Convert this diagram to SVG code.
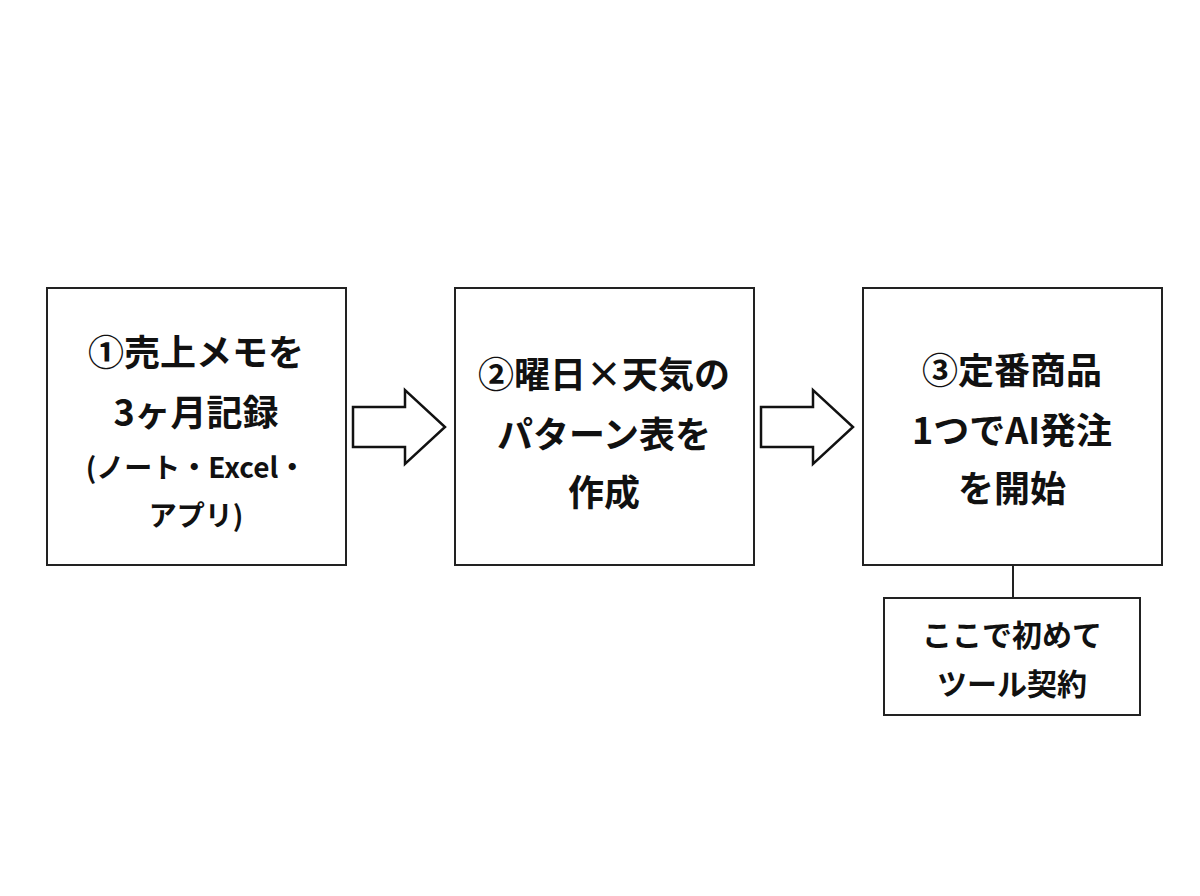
<svg xmlns="http://www.w3.org/2000/svg" width="1200" height="896" viewBox="0 0 1200 896">
<style>
.b{fill:#fff;stroke:#222;stroke-width:2}
.t{font-family:"Noto Sans CJK JP","Noto Sans",sans-serif;font-weight:bold;fill:#111;text-anchor:middle}
.a{fill:#fff;stroke:#111;stroke-width:2.5;stroke-linejoin:miter}
</style>
<rect width="1200" height="896" fill="#fff"/>
<g id="connectors">
<path class="a" d="M353,407 H405 V390 L445,427 L405,464 V447 H353 Z"/>
<path class="a" d="M761,407 H813 V390 L853,427 L813,464 V447 H761 Z"/>
<line x1="1013" y1="565" x2="1013" y2="598" stroke="#222" stroke-width="2"/>
</g>
<g id="n1">
<rect class="b" x="47" y="288" width="299" height="277"/>
<text class="t" x="196" y="366" font-size="36">①売上メモを</text>
<text class="t" x="196" y="426" font-size="36">3ヶ月記録</text>
<text class="t" x="196" y="478" font-size="28">(ノート・Excel・</text>
<text class="t" x="196" y="526" font-size="28">アプリ)</text>
</g>
<g id="n2">
<rect class="b" x="455" y="288" width="299" height="277"/>
<text class="t" x="604" y="388" font-size="36">②曜日×天気の</text>
<text class="t" x="604" y="448" font-size="36">パターン表を</text>
<text class="t" x="604" y="506" font-size="36">作成</text>
</g>
<g id="n3">
<rect class="b" x="863" y="288" width="299" height="277"/>
<text class="t" x="1012" y="384" font-size="36">③定番商品</text>
<text class="t" x="1012" y="444" font-size="36">1つでAI発注</text>
<text class="t" x="1012" y="502" font-size="36">を開始</text>
</g>
<g id="n4">
<rect class="b" x="884" y="598" width="256" height="117"/>
<text class="t" x="1012" y="646" font-size="30">ここで初めて</text>
<text class="t" x="1012" y="695" font-size="30">ツール契約</text>
</g>
</svg>
